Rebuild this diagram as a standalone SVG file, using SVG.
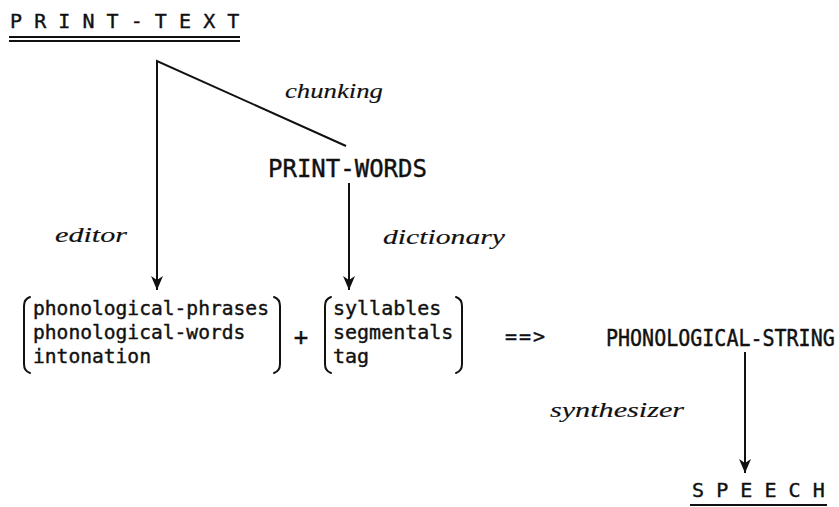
<svg xmlns="http://www.w3.org/2000/svg" width="839" height="507" viewBox="0 0 839 507">
<style>
.mono{font-family:"DejaVu Sans Mono","Liberation Mono",monospace;fill:#111;stroke:#111;stroke-width:0.4}
.it{font-family:"Liberation Serif","DejaVu Serif",serif;font-style:italic;font-size:22px;fill:#111;stroke:#111;stroke-width:0.15}
.ln{stroke:#111;stroke-width:2;fill:none}
.br{stroke:#111;stroke-width:2;fill:none;stroke-linecap:round}
</style>
<defs>
<marker id="arr" markerWidth="14" markerHeight="12" refX="14" refY="6" orient="auto" markerUnits="userSpaceOnUse" viewBox="0 0 14 12">
<path d="M0,0 L4,6 L0,12 L14,6 Z" fill="#111"/>
</marker>
</defs>
<rect width="839" height="507" fill="#fff"/>
<g id="print-text">
<text class="mono" x="10" y="28" font-size="20" letter-spacing="12.1">PRINT-TEXT</text>
<line class="ln" x1="9" y1="37" x2="240" y2="37" stroke-width="2"/>
<line class="ln" x1="9" y1="41" x2="240" y2="41" stroke-width="1.5"/>
</g>
<g id="print-words">
<text class="mono" x="268" y="177" font-size="24">PRINT-WORDS</text>
</g>
<g id="group-editor">
<path class="br" d="M30,297 Q24,299 24,306 L24,364 Q24,371 30,373"/>
<text class="mono" x="33" y="315" font-size="19.6">phonological-phrases</text>
<text class="mono" x="33" y="339" font-size="19.6">phonological-words</text>
<text class="mono" x="33" y="363" font-size="19.6">intonation</text>
<path class="br" d="M274,297 Q280,299 280,306 L280,364 Q280,371 274,373"/>
</g>
<g id="plus">
<text class="mono" x="301" y="345" font-size="24" text-anchor="middle">+</text>
</g>
<g id="group-dictionary">
<path class="br" d="M331,297 Q325,299 325,306 L325,364 Q325,371 331,373"/>
<text class="mono" x="333" y="315" font-size="20">syllables</text>
<text class="mono" x="333" y="339" font-size="20">segmentals</text>
<text class="mono" x="333" y="363" font-size="20">tag</text>
<path class="br" d="M456,297 Q462,299 462,306 L462,364 Q462,371 456,373"/>
</g>
<g id="implies">
<text class="mono" x="505" y="343" font-size="20" letter-spacing="2">==&gt;</text>
</g>
<g id="phonological-string">
<text class="mono" transform="translate(606,346) scale(1,1.15)" x="0" y="0" font-size="20">PHONOLOGICAL-STRING</text>
</g>
<g id="speech">
<text class="mono" x="692" y="497" font-size="20" letter-spacing="12.1">SPEECH</text>
<line class="ln" x1="690" y1="505" x2="827" y2="505"/>
</g>
<g id="connectors">
<polyline class="ln" points="346,146 157,61 157,290" marker-end="url(#arr)"/>
<line class="ln" x1="349" y1="183" x2="349" y2="290" marker-end="url(#arr)"/>
<line class="ln" x1="745" y1="352" x2="745" y2="473" marker-end="url(#arr)"/>
</g>
<g id="labels">
<text class="it" x="285" y="98" textLength="98" lengthAdjust="spacingAndGlyphs">chunking</text>
<text class="it" x="55" y="242" textLength="72" lengthAdjust="spacingAndGlyphs">editor</text>
<text class="it" x="383" y="244" textLength="122" lengthAdjust="spacingAndGlyphs">dictionary</text>
<text class="it" x="550" y="417" textLength="134" lengthAdjust="spacingAndGlyphs">synthesizer</text>
</g>
</svg>
